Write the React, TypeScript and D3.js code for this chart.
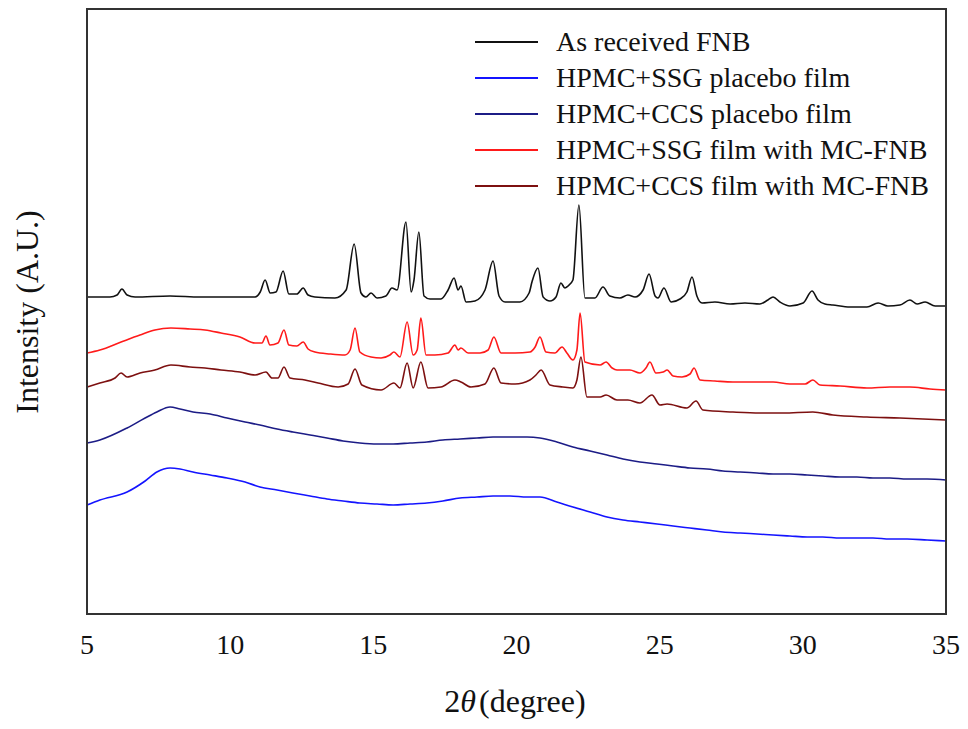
import React from "react";
import * as d3 from "d3";

// 2-theta (degree), intensity (arbitrary units, offset stacked as in the figure)
const fnbX = [5.0, 5.8, 6.05, 6.22, 6.4, 6.68, 7.9, 8.95, 10.0, 10.87, 11.05, 11.22, 11.4, 11.6, 11.85, 12.05, 12.33, 12.55, 12.72, 12.96, 13.66, 14.05, 14.33, 14.57, 14.74, 14.92, 15.13, 15.44, 15.65, 15.83, 16.14, 16.32, 16.42, 16.59, 16.77, 16.98, 17.36, 17.61, 17.82, 17.96, 18.06, 18.24, 18.55, 18.9, 19.18, 19.39, 19.6, 20.12, 20.44, 20.54, 20.75, 20.93, 21.17, 21.38, 21.55, 21.69, 21.8, 21.97, 22.18, 22.39, 22.74, 23.02, 23.26, 23.61, 23.89, 24.14, 24.42, 24.63, 24.84, 24.94, 25.15, 25.4, 25.71, 25.95, 26.13, 26.3, 26.48, 26.93, 27.46, 27.98, 28.5, 28.78, 28.96, 29.2, 29.55, 30.01, 30.32, 30.53, 30.77, 31.05, 31.65, 32.24, 32.63, 32.97, 33.39, 33.74, 33.99, 34.27, 34.62, 35.0];
const fnbY = [317, 317, 319, 325, 319, 317, 318, 317, 317, 317, 322, 334, 321, 322, 343, 320, 320, 326, 319, 317, 316, 324, 370, 321, 317, 321, 316, 318, 326, 324, 392, 322, 334, 382, 318, 315, 315, 324, 336, 324, 328, 312, 313, 324, 353, 318, 312, 312, 321, 332, 346, 317, 313, 317, 331, 326, 328, 334, 409, 316, 316, 327, 318, 316, 319, 317, 324, 340, 318, 316, 326, 312, 315, 322, 337, 318, 311, 312, 310, 311, 310, 314, 317, 312, 308, 311, 323, 314, 310, 309, 307, 307, 311, 308, 309, 314, 310, 312, 308, 308];

const ssgFilmX = [5.0, 5.45, 6.19, 6.85, 7.37, 7.93, 8.6, 9.12, 9.68, 10.34, 10.87, 11.11, 11.25, 11.39, 11.67, 11.88, 12.05, 12.33, 12.55, 12.72, 12.96, 13.49, 14.01, 14.19, 14.36, 14.53, 14.92, 15.27, 15.58, 15.72, 15.93, 16.18, 16.39, 16.53, 16.66, 16.84, 17.15, 17.61, 17.85, 17.96, 18.06, 18.31, 18.73, 19.01, 19.21, 19.46, 19.95, 20.47, 20.65, 20.82, 21.03, 21.34, 21.59, 21.76, 21.97, 22.11, 22.22, 22.39, 22.92, 23.13, 23.34, 23.51, 23.96, 24.31, 24.52, 24.66, 24.87, 25.12, 25.26, 25.47, 25.78, 26.06, 26.2, 26.41, 26.93, 27.56, 28.15, 28.96, 29.55, 30.08, 30.35, 30.6, 31.3, 32.24, 33.04, 33.74, 34.44, 35.0];
const ssgFilmY = [261, 264, 272, 279, 284, 286, 285, 284, 281, 277, 271, 271, 278, 269, 271, 284, 269, 268, 272, 265, 262, 260, 259, 264, 286, 262, 257, 256, 259, 262, 257, 292, 259, 264, 296, 259, 259, 261, 269, 264, 266, 261, 261, 264, 277, 261, 261, 262, 267, 277, 262, 261, 267, 261, 254, 264, 301, 252, 249, 252, 246, 244, 244, 241, 246, 252, 241, 242, 244, 238, 237, 240, 246, 234, 233, 232, 232, 232, 230, 230, 234, 229, 228, 226, 227, 227, 225, 224];

const ccsFilmX = [5.0, 5.45, 5.98, 6.19, 6.4, 6.85, 7.37, 7.93, 8.6, 9.12, 9.68, 10.34, 10.87, 11.25, 11.46, 11.67, 11.88, 12.09, 12.61, 13.07, 13.77, 14.12, 14.36, 14.6, 15.27, 15.72, 15.93, 16.18, 16.39, 16.66, 16.91, 17.36, 17.85, 18.06, 18.41, 18.9, 19.21, 19.46, 19.95, 20.47, 20.68, 20.86, 21.17, 21.62, 21.97, 22.11, 22.25, 22.46, 22.92, 23.13, 23.51, 23.89, 24.31, 24.73, 25.01, 25.26, 25.95, 26.27, 26.51, 27.56, 28.5, 29.31, 30.35, 31.05, 32.24, 33.39, 35.0];
const ccsFilmY = [227, 231, 236, 241, 237, 241, 244, 249, 247, 246, 244, 242, 239, 242, 236, 236, 247, 236, 234, 231, 227, 230, 245, 229, 224, 231, 226, 251, 226, 252, 226, 227, 234, 232, 227, 230, 246, 231, 230, 234, 239, 244, 229, 227, 226, 234, 257, 217, 217, 219, 214, 214, 211, 219, 209, 210, 206, 213, 204, 202, 201, 201, 202, 199, 197, 196, 194];

const ccsPlaceboX = [5.0, 5.45, 6.4, 7.03, 7.44, 7.9, 8.25, 8.7, 9.3, 9.89, 10.52, 11.04, 11.64, 12.19, 12.79, 13.38, 13.94, 14.53, 15.13, 15.69, 16.28, 16.87, 17.43, 18.03, 18.62, 19.18, 19.77, 20.37, 20.82, 21.41, 21.97, 22.57, 23.16, 23.72, 24.31, 24.91, 25.47, 26.06, 26.65, 27.21, 27.81, 28.4, 28.96, 29.55, 30.15, 30.7, 31.3, 31.89, 32.45, 33.04, 33.64, 34.34, 35.0];
const ccsPlaceboY = [171, 174, 186, 196, 202, 207, 205, 202, 200, 196, 192, 189, 185, 182, 179, 176, 173, 171, 170, 170, 171, 172, 174, 175, 176, 177, 177, 177, 176, 172, 167, 163, 159, 155, 152, 150, 148, 146, 145, 143, 142, 141, 140, 140, 139, 138, 137, 137, 136, 136, 135, 135, 134];

const ssgPlaceboX = ccsPlaceboX;
const ssgPlaceboY = [109, 114, 122, 133, 142, 146, 145, 142, 139, 136, 132, 127, 124, 121, 118, 115, 113, 111, 110, 109, 110, 111, 113, 116, 117, 118, 118, 117, 117, 112, 107, 102, 97, 94, 92, 90, 88, 86, 84, 82, 81, 80, 79, 78, 77, 77, 76, 76, 76, 75, 75, 74, 73];

const legendLabels = ["As received FNB", "HPMC+SSG placebo film", "HPMC+CCS placebo film", "HPMC+SSG film with MC-FNB", "HPMC+CCS film with MC-FNB"];
const legendColors = ["#111111", "#1414ff", "#1c1c86", "#ff1a1a", "#7d1010"];
const xTicks = [5, 10, 15, 20, 25, 30, 35];

const W = 968, H = 729;
const M = { left: 87, right: 946, top: 9, bottom: 614 };
const FONT = "'Liberation Serif', 'Times New Roman', serif";

export default function App() {
  const x = d3.scaleLinear().domain([5, 35]).range([M.left, M.right]);
  const y = d3.scaleLinear().domain([0, 605]).range([M.bottom, M.top]);

  const line = d3.line<[number, number]>()
    .x(d => x(d[0]))
    .y(d => y(d[1]))
    .curve(d3.curveMonotoneX);

  const series = [
    { xs: ssgPlaceboX, ys: ssgPlaceboY, color: legendColors[1] },
    { xs: ccsPlaceboX, ys: ccsPlaceboY, color: legendColors[2] },
    { xs: ccsFilmX, ys: ccsFilmY, color: legendColors[4] },
    { xs: ssgFilmX, ys: ssgFilmY, color: legendColors[3] },
    { xs: fnbX, ys: fnbY, color: legendColors[0] },
  ];

  const legendY = d3.scalePoint<number>().domain([0, 1, 2, 3, 4]).range([42, 186]);

  return (
    <svg width={W} height={H} style={{ position: "absolute", left: 0, top: 0, background: "#fff" }} fontFamily={FONT}>
      {series.map((s, i) => (
        <path key={i} d={line(s.xs.map((v, j) => [v, s.ys[j]] as [number, number])) || ""}
          fill="none" stroke={s.color} strokeWidth={1.6} strokeLinejoin="round" />
      ))}
      <rect x={M.left} y={M.top} width={M.right - M.left} height={M.bottom - M.top}
        fill="none" stroke="#333" strokeWidth={2} />
      {xTicks.map(t => (
        <text key={t} x={x(t)} y={654} textAnchor="middle" fontSize={28} fill="#111">{t}</text>
      ))}
      <text x={515} y={712} textAnchor="middle" fontSize={32} fill="#111">
        <tspan>2</tspan><tspan fontStyle="italic">θ</tspan><tspan dx={3}>(degree)</tspan>
      </text>
      <text transform="translate(38,312) rotate(-90)" textAnchor="middle" fontSize={32} fill="#111">Intensity (A.U.)</text>
      {legendLabels.map((l, i) => (
        <g key={l} transform={`translate(0,${legendY(i)})`}>
          <line x1={475} x2={538} y1={0} y2={0} stroke={legendColors[i]} strokeWidth={1.8} />
          <text x={556} y={9} fontSize={28} fill="#111">{l}</text>
        </g>
      ))}
    </svg>
  );
}
